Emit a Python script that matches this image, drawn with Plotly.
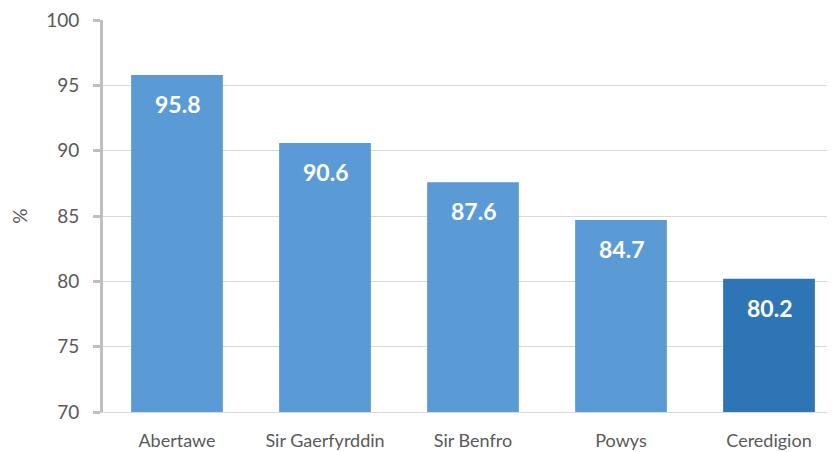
import plotly.graph_objects as go

# Data
areas = ["Abertawe", "Sir Gaerfyrddin", "Sir Benfro", "Powys", "Ceredigion"]
values = [95.8, 90.6, 87.6, 84.7, 80.2]
bar_colors = ["#5B9BD5", "#5B9BD5", "#5B9BD5", "#5B9BD5", "#2E75B6"]
y_ticks = [70, 75, 80, 85, 90, 95, 100]

FONT = "Lato, 'Open Sans', sans-serif"
GREY_TXT = "#595959"

fig = go.Figure(go.Bar(
    x=areas, y=values,
    marker=dict(color=bar_colors, line=dict(width=0)),
    width=0.62,
    hoverinfo="x+y",
))

# labels inside the bars, a little below the top
for a, v in zip(areas, values):
    fig.add_annotation(
        x=a, y=v, text=f"<b>{v:.1f}</b>", showarrow=False,
        yanchor="middle", yshift=-29,
        font=dict(family=FONT, size=23, color="white"),
    )

# page body has an 8px margin, so the plot box is offset to compensate
fig.update_layout(
    width=835, height=452,
    margin=dict(l=95, r=0, t=12, b=48),
    paper_bgcolor="white", plot_bgcolor="white",
    showlegend=False,
    font=dict(family=FONT, color=GREY_TXT),
)

fig.update_xaxes(
    range=[-0.5, 4.5], automargin=False,
    showline=True, linecolor="#D9D9D9", linewidth=1,
    ticks="", showgrid=False,
    ticklabelstandoff=12,
    tickfont=dict(size=18, color=GREY_TXT),
)
fig.update_yaxes(
    range=[70, 100.02], tickvals=y_ticks, automargin=False,
    showline=True, linecolor="#BFBFBF", linewidth=3,
    ticks="outside", ticklen=7, tickwidth=3, tickcolor="#BFBFBF",
    ticklabelstandoff=10, ticklabeloverflow="allow",
    showgrid=True, gridcolor="#D9D9D9", gridwidth=1,
    zeroline=False,
    tickfont=dict(size=19, color=GREY_TXT),
    title=dict(text="%", font=dict(size=19, color=GREY_TXT), standoff=24),
)

fig.write_html("out.html")
